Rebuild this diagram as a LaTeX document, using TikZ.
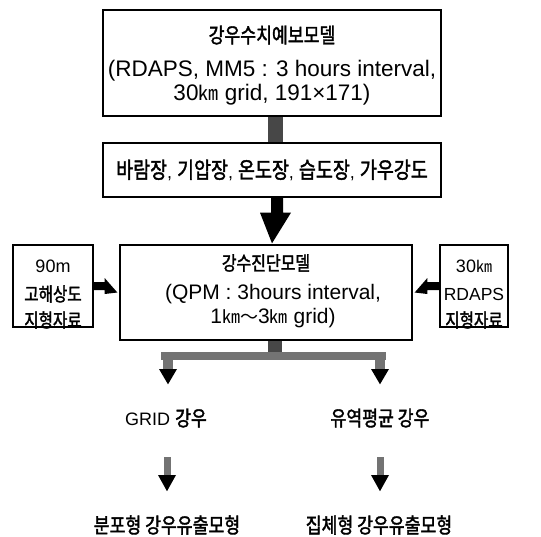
\documentclass[tikz,border=0pt]{standalone}
\usepackage{fontspec}
\setmainfont{Liberation Sans}
\newfontfamily\kr{Noto Sans CJK KR}[FakeStretch=0.82, FakeBold=1.7]
\newfontfamily\krp{Noto Sans CJK KR}
\usetikzlibrary{calc}
\begin{document}
\begin{tikzpicture}[x=1pt,y=-1pt,
  box/.style={draw, line width=1.3pt, inner sep=0pt},
  lbl/.style={inner sep=0pt, anchor=center},
  krt/.style={lbl, font=\kr\fontsize{#1}{#1}\selectfont},
  lat/.style={lbl, font=\fontsize{#1}{#1}\selectfont},
  shaft/.style={fill=black!72},
  lshaft/.style={fill=black!55},
  head/.style={fill=black}]
\useasboundingbox[fill=white] (0,0) rectangle (541,536);
\newcommand\hk[2]{{\kr\fontsize{#1}{#1}\selectfont #2}}

% boxes
\node[box, minimum width=338pt, minimum height=106pt] (b1) at (272,63) {};
\node[box, minimum width=338pt, minimum height=54pt] (b2) at (272,170) {};
\node[box, minimum width=292pt, minimum height=95pt] (b3) at (266,292.5) {};
\node[box, minimum width=80pt, minimum height=82pt] (lb) at (53,286) {};
\node[box, minimum width=68pt, minimum height=82pt] (rb) at (474,286) {};

% texts of top box
\node[krt=21] (t1) at (272,35) {강우수치예보모델};
\node[lat=22.5] (t2) at (272,71) {(RDAPS, MM5 : 3 hours interval,};
\node[lat=22.5] (t3) at (272,95) {30{\krp\fontsize{20}{20}\selectfont ㎞} grid, 191×171)};

% second box
\node[lat=18] (t4) at (272,170) {\hk{22.5}{바람장}, \hk{22.5}{기압장}, \hk{22.5}{온도장}, \hk{22.5}{습도장}, \hk{22.5}{가우강도}};

% middle box
\node[krt=19.5] (t5) at (266,263) {강수진단모델};
\node[lat=21] (t6) at (273,294) {(QPM : 3hours interval,};
\node[lat=21] (t7) at (273,318) {1{\krp\fontsize{18}{18}\selectfont ㎞～}3{\krp\fontsize{18}{18}\selectfont ㎞} grid)};

% left box
\node[lat=18] (l1) at (53,266) {90m};
\node[krt=19] (l2) at (53,294) {고해상도};
\node[krt=19] (l3) at (53,320) {지형자료};

% right box
\node[lat=18] (r1) at (474,266) {30{\krp\fontsize{16}{16}\selectfont ㎞}};
\node[lat=17.5] (r2) at (474,294) {RDAPS};
\node[krt=19] (r3) at (474,320) {지형자료};

% lower texts
\node[lat=18] (g1) at (166,418) {GRID \hk{21}{강우}};
\node[krt=21] (g2) at (380,418) {유역평균 강우};
\node[krt=21] (m1) at (167,525) {분포형 강우유출모형};
\node[krt=21] (m2) at (379,525) {집체형 강우유출모형};

% connector b1 -> b2 (bar)
\fill[shaft] ($(b1.south)+(-4,0)$) rectangle ($(b2.north)+(11,0)$);

% big arrow b2 -> b3
\fill[head] ($(b2.south)+(-1,0)$) -- ++(12,0) -- ++(0,15) -- ++(8,0)
  -- ($(b3.north)+(6,-1)$) -- ($(b2.south)+(-12,15)$) -- ++(11,0) -- cycle;

% side arrows
\fill[head] ($(lb.east)+(0,-4)$) -- ++(11,0) -- ++(0,-4) -- ($(b3.west)+(-2,0)$)
  -- ($(lb.east)+(11,8)$) -- ++(0,-4) -- ++(-11,0) -- cycle;
\fill[head] ($(rb.west)+(0,-4)$) -- ++(-12,0) -- ++(0,-4) -- ($(b3.east)+(2,0)$)
  -- ($(rb.west)+(-12,8)$) -- ++(0,-4) -- ++(12,0) -- cycle;

% split from b3
\coordinate (sp) at ($(b3.south)+(9,12)$);
\fill[shaft] ($(b3.south)+(2,0)$) rectangle ($(sp)+(7,0)$);
\fill[lshaft] (161,352) rectangle (386,360);
\fill[lshaft] (163,360) rectangle (173,369);
\fill[lshaft] (375,360) rectangle (385,369);
\fill[head] (159,369) -- (177,369) -- ($(g1.north)+(2,-24)$) -- cycle;
\fill[head] (371,369) -- (389,369) -- ($(g2.north)+(0,-24)$) -- cycle;

% lower arrows
\fill[lshaft] (164,457) rectangle (171,475);
\fill[head] (158,475) -- (176,475) -- ($(m1.north)+(0,-24)$) -- cycle;
\fill[lshaft] (377,457) rectangle (384,475);
\fill[head] (371,475) -- (389,475) -- ($(m2.north)+(1,-24)$) -- cycle;
\end{tikzpicture}
\end{document}
